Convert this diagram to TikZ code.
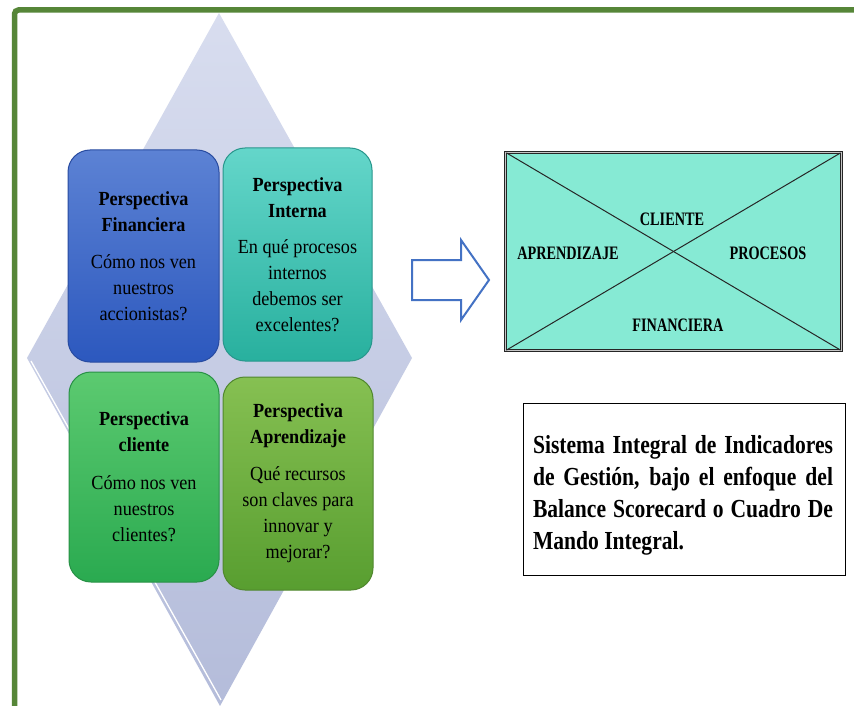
\documentclass[tikz,border=0pt]{standalone}
\usepackage{fontspec}
\setmainfont{Liberation Serif}
\newfontfamily\boxfont[FakeStretch=0.91]{Liberation Serif}
\newfontfamily\capfont[FakeStretch=0.75]{Liberation Serif}
\newfontfamily\sifont[FakeStretch=0.83]{Liberation Serif}
\definecolor{framegreen}{RGB}{86,134,56}
\definecolor{diaTop}{RGB}{216,221,239}
\definecolor{diaBot}{RGB}{180,188,218}
\definecolor{finTop}{RGB}{92,130,212}
\definecolor{finBot}{RGB}{44,88,190}
\definecolor{finEdge}{RGB}{40,75,160}
\definecolor{intTop}{RGB}{100,214,202}
\definecolor{intBot}{RGB}{40,176,158}
\definecolor{intEdge}{RGB}{40,150,140}
\definecolor{cliTop}{RGB}{92,202,112}
\definecolor{cliBot}{RGB}{42,170,80}
\definecolor{cliEdge}{RGB}{40,145,70}
\definecolor{aprTop}{RGB}{134,192,82}
\definecolor{aprBot}{RGB}{88,158,48}
\definecolor{aprEdge}{RGB}{80,135,45}
\definecolor{arrowblue}{RGB}{68,114,196}
\definecolor{xfill}{RGB}{134,234,212}
\tikzset{
  pbox/.style={rounded corners=22pt, align=center, inner sep=0pt, line width=1pt,
    font={\boxfont\fontsize{20}{26}\selectfont}},
  xlabel/.style={font={\capfont\bfseries\fontsize{19}{22}\selectfont}, inner sep=0pt, anchor=base},
}
\begin{document}
\begin{tikzpicture}[x=1pt,y=-1pt]
\useasboundingbox (0,0) rectangle (854,706);
\fill[white] (0,0) rectangle (854,706);
% frame
\draw[framegreen, line width=5.5pt, rounded corners=4pt] (14.5,730) -- (14.5,10) -- (870,10);
% diamond
\shade[top color=diaTop, bottom color=diaBot] (219,13) -- (412,358) -- (220,706) -- (27,358) -- cycle;
\draw[white, line width=1.3pt] (31,361) -- (221,700);
% perspective boxes
\node[pbox, draw=finEdge, top color=finTop, bottom color=finBot, minimum width=151pt, minimum height=212pt] (fin) at (143.5,256)
  {\textbf{Perspectiva}\\\textbf{Financiera}\\[11pt]Cómo nos ven\\nuestros\\accionistas?};
\node[pbox, draw=intEdge, top color=intTop, bottom color=intBot, minimum width=149pt, minimum height=213pt] (int) at (297.5,254.5)
  {\textbf{Perspectiva}\\\textbf{Interna}\\[10pt]En qué procesos\\internos\\debemos ser\\excelentes?};
\node[pbox, draw=cliEdge, top color=cliTop, bottom color=cliBot, minimum width=150pt, minimum height=210pt] (cli) at (144,477)
  {\textbf{Perspectiva}\\\textbf{cliente}\\[12pt]Cómo nos ven\\nuestros\\clientes?};
\node[pbox, draw=aprEdge, top color=aprTop, bottom color=aprBot, minimum width=150pt, minimum height=213pt] (apr) at (298,483.5)
  {\textbf{Perspectiva}\\\textbf{Aprendizaje}\\[11pt]Qué recursos\\son claves para\\innovar y\\mejorar?};
% block arrow
\draw[arrowblue, line width=2pt, fill=white, line join=miter]
  (412,260) -- (461,260) -- (461,240) -- (489,280) -- (461,320) -- (461,300) -- (412,300) -- cycle;
% X box
\node[fill=xfill, draw=black!85, double=gray!45, double distance=1.5pt, line width=0.8pt,
      minimum width=336pt, minimum height=198pt, inner sep=0pt] (xb) at (673.5,251.5) {};
\draw[black!85, line width=1pt, shorten <=1.5pt, shorten >=1.5pt] (xb.north west) -- (xb.south east);
\draw[black!85, line width=1pt, shorten <=1.5pt, shorten >=1.5pt] (xb.north east) -- (xb.south west);
\node[xlabel] (lcli) at (672,225) {CLIENTE};
\node[xlabel] (lapr) at (568,259) {APRENDIZAJE};
\node[xlabel] (lpro) at (768,259) {PROCESOS};
\node[xlabel] (lfin) at (678,331) {FINANCIERA};
% text box
\node[draw=black, line width=1pt, minimum width=322pt, minimum height=172pt, inner sep=0pt] (sibox) at (684,489) {};
\node[align=left, inner sep=0pt, font={\sifont\bfseries\fontsize{26}{32}\selectfont}] (sitext) at (683,495)
  {\makebox[300pt][s]{Sistema Integral de Indicadores}\\
   \makebox[300pt][s]{de Gestión, bajo el enfoque del}\\
   \makebox[300pt][s]{Balance Scorecard o Cuadro De}\\
   Mando Integral.};
\end{tikzpicture}
\end{document}
